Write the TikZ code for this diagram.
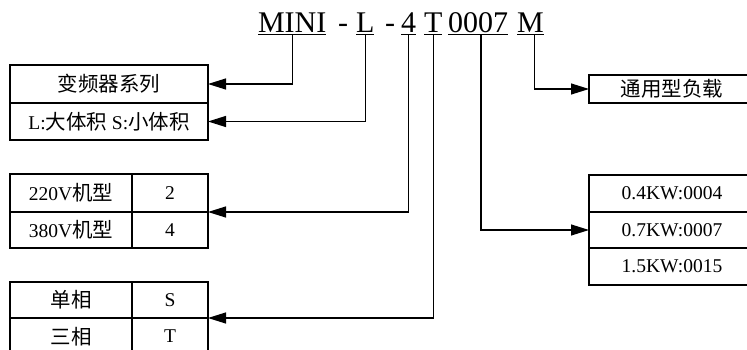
\documentclass[tikz,border=0pt]{standalone}
\usepackage{fontspec}
\setmainfont{Liberation Serif}
\newfontfamily\cjk[Scale=1.05]{Noto Sans CJK SC}
\usetikzlibrary{arrows.meta, positioning}
\tikzset{
  cell/.style={rectangle, draw=black, line width=1.2pt, outer sep=0pt, inner sep=0pt, minimum height=37pt, text centered, font=\fontsize{19.5}{23}\selectfont},
  part/.style={inner sep=0pt, outer sep=0pt, anchor=base west, font=\fontsize{30}{36}\selectfont},
  arrow/.style={line width=1.2pt, -{Triangle[length=18pt, width=11pt]}}
}

\begin{document}
\begin{tikzpicture}[x=1pt, y=-1pt, node distance=0pt]
  \useasboundingbox (0,0) rectangle (747,350);
  \clip (0,0) rectangle (747,350);

  % model code
  \node (mini) [part] at (258,33) {\underline{MINI}};
  \node (dasha) [part] at (338,33) {-};
  \node (l) [part] at (356,33) {\underline{L}};
  \node (dashb) [part] at (385,33) {-};
  \node (four) [part] at (401,33) {\underline{4}};
  \node (t) [part] at (424,33) {\underline{T}};
  \node (code) [part] at (448,33) {\underline{0007}};
  \node (m) [part] at (517,33) {\underline{M}};

  % left tables
  \node (series) [cell, minimum width=198pt, minimum height=38pt] at (109,84) {\cjk 变频器系列};
  \node (size) [cell, minimum width=198pt, below=of series] {L:{\cjk 大体积} S:{\cjk 小体积}};

  \node (v220) [cell, minimum width=122pt, minimum height=38pt] at (71,193) {220V{\cjk 机型}};
  \node (c2) [cell, minimum width=76pt, minimum height=38pt, right=of v220] {2};
  \node (v380) [cell, minimum width=122pt, minimum height=36pt, below=of v220] {380V{\cjk 机型}};
  \node (c4) [cell, minimum width=76pt, minimum height=36pt, right=of v380] {4};

  \node (single) [cell, minimum width=122pt, minimum height=36pt] at (71,300) {\cjk 单相};
  \node (cs) [cell, minimum width=76pt, minimum height=36pt, right=of single] {S};
  \node (three) [cell, minimum width=122pt, below=of single] {\cjk 三相};
  \node (ct) [cell, minimum width=76pt, right=of three] {T};

  % right tables
  \node (load) [cell, minimum width=166pt, minimum height=28pt] at (672,89) {\cjk 通用型负载};
  \node (p04) [cell, minimum width=166pt] at (672,193.5) {0.4KW:0004};
  \node (p07) [cell, minimum width=166pt, minimum height=36pt, below=of p04] {0.7KW:0007};
  \node (p15) [cell, minimum width=166pt, below=of p07] {1.5KW:0015};

  \draw [arrow] (mini.south) |- (series.east);
  \draw [arrow] (l.south) |- (size.east);
  \draw [arrow] (four.south) |- (c2.south east);
  \draw [arrow] (t.south) |- (cs.south east);
  \draw [arrow] ([xshift=3pt]code.south) |- (p07.west);
  \draw [arrow] ([xshift=4pt]m.south) |- (load.west);

\end{tikzpicture}
\end{document}
